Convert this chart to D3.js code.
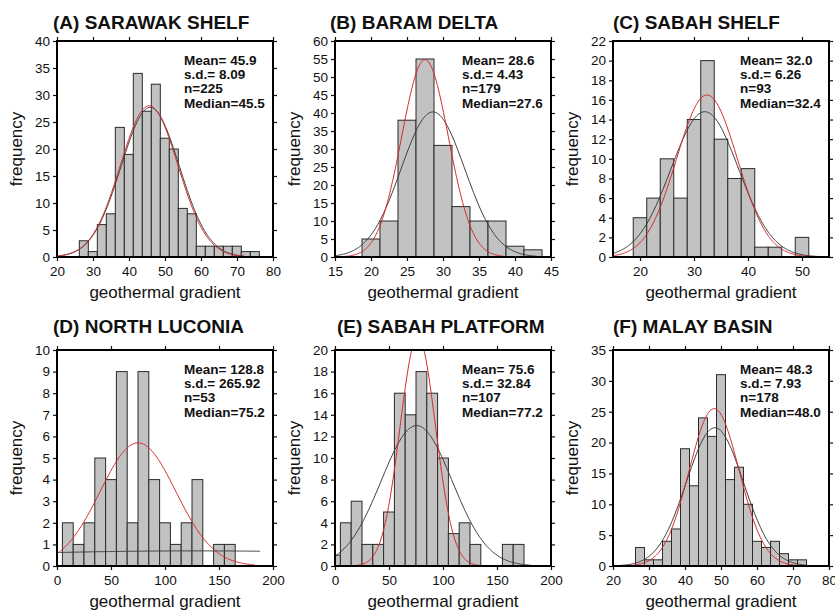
<!DOCTYPE html>
<html><head><meta charset="utf-8">
<script src="https://cdn.jsdelivr.net/npm/d3@7"></script>
<style>
body{margin:0;background:#fff}
svg{display:block}
text{font-family:"Liberation Sans",Arial,Helvetica,sans-serif;fill:#111}
</style>
</head><body>
<svg id="chart" width="835" height="612"></svg>
<script>
// ---------------- DATA ----------------
const titles = ["(A) SARAWAK SHELF", "(B) BARAM DELTA", "(C) SABAH SHELF",
                "(D) NORTH LUCONIA", "(E) SABAH PLATFORM", "(F) MALAY BASIN"];

// histogram bins: first bin left edge and bin width (geothermal gradient units)
const binStarts = [26.2, 18.75, 18.75, 5, -5, 26.25];
const binWidths = [2.5, 2.5, 2.5, 10, 10, 2.5];

const countsA = [3, 1, 6, 8, 24, 19, 34, 27, 32, 22, 20, 9, 8, 2, 2, 2, 2, 2, 1, 1];
const countsB = [5, 10, 38, 55, 31, 14, 10, 10, 3, 2];
const countsC = [4, 6, 10, 6, 14, 20, 12, 8, 9, 1, 1, 0, 2];
const countsD = [2, 1, 2, 5, 4, 9, 2, 9, 4, 2, 1, 2, 4, 0, 1, 1];
const countsE = [1, 4, 6, 2, 2, 5, 16, 14, 18, 16, 10, 3, 4, 2, 0, 0, 2, 2];
const countsF = [3, 1, 1, 4, 6, 19, 13, 24, 21, 31, 14, 16, 10, 4, 3, 4, 2, 1, 1];
const counts = [countsA, countsB, countsC, countsD, countsE, countsF];

// axes
const xDomains = [[20, 80], [15, 45], [15, 55], [0, 200], [0, 200], [20, 80]];
const yMaxes = [40, 60, 22, 10, 20, 35];
const xTickValues = [[20, 30, 40, 50, 60, 70, 80], [15, 20, 25, 30, 35, 40, 45], [20, 30, 40, 50],
                     [0, 50, 100, 150, 200], [0, 50, 100, 150, 200], [20, 30, 40, 50, 60, 70, 80]];
const yTickSteps = [5, 5, 2, 1, 2, 5];

// statistics text
const statMean = ["45.9", "28.6", "32.0", "128.8", "75.6", "48.3"];
const statSd = ["8.09", "4.43", "6.26", "265.92", "32.84", "7.93"];
const statN = ["225", "179", "93", "53", "107", "178"];
const statMedian = ["45.5", "27.6", "32.4", "75.2", "77.2", "48.0"];

// fitted normal curves (black: mean/sd fit, red: second fit) — centre, spread, peak height, x-range
const blackMean = [45.9, 28.6, 32.0, 128.8, 75.6, 48.3];
const blackSd = [8.09, 4.43, 6.26, 265.92, 32.84, 7.93];
const blackPeak = [27.7, 40.3, 14.8, 0.70, 13.0, 22.4];
const blackRange = [[20, 72], [15, 43], [15, 53], [0, 188], [0, 181], [21, 74]];
const redMean = [45.6, 27.5, 32.4, 75, 76.7, 48.1];
const redSd = [8.0, 3.26, 5.63, 35, 16.5, 6.95];
const redPeak = [28.0, 54.8, 16.5, 5.7, 21.2, 25.5];
const redRange = [[20, 72], [15.7, 38.4], [15, 52], [0, 183], [7, 147], [22, 72]];

// ---------------- LAYOUT ----------------
const colLeft = [57, 335, 613];
const plotW = 216, plotH = 216;
const rowTop = [41, 350];
const titleBase = [29, 333];
const titleDx = [-4, -5, 0, -4, 2, 0];

const svg = d3.select("#chart");

counts.forEach((cnts, p) => {
  const col = p % 3, row = Math.floor(p / 3);
  const L = colLeft[col], T = rowTop[row];
  const g = svg.append("g").attr("transform", `translate(${L},${T})`);
  const x = d3.scaleLinear().domain(xDomains[p]).range([0, plotW]);
  const y = d3.scaleLinear().domain([0, yMaxes[p]]).range([plotH, 0]);

  const clipId = "clip" + p;
  g.append("clipPath").attr("id", clipId).append("rect")
    .attr("x", 0).attr("y", 0).attr("width", plotW).attr("height", plotH);
  const inner = g.append("g").attr("clip-path", `url(#${clipId})`);

  // bars
  const bins = cnts.map((c, i) => ({x0: binStarts[p] + i * binWidths[p], x1: binStarts[p] + (i + 1) * binWidths[p], c}))
                   .filter(d => d.c > 0);
  inner.selectAll("rect.bar").data(bins).enter().append("rect")
    .attr("class", "bar")
    .attr("x", d => x(d.x0)).attr("width", d => x(d.x1) - x(d.x0))
    .attr("y", d => y(d.c)).attr("height", d => y(0) - y(d.c))
    .attr("fill", "#c2c2c2").attr("stroke", "#2a2a2a").attr("stroke-width", 1);

  // normal curves
  const line = d3.line().x(d => x(d[0])).y(d => y(d[1]));
  function gauss(m, s, pk, rng) {
    const pts = [];
    const n = 240;
    for (let i = 0; i <= n; i++) {
      const xv = rng[0] + (rng[1] - rng[0]) * i / n;
      pts.push([xv, pk * Math.exp(-0.5 * ((xv - m) / s) ** 2)]);
    }
    return pts;
  }
  inner.append("path").datum(gauss(blackMean[p], blackSd[p], blackPeak[p], blackRange[p]))
    .attr("d", line).attr("fill", "none").attr("stroke", "#3a3a3a").attr("stroke-width", 1);
  inner.append("path").datum(gauss(redMean[p], redSd[p], redPeak[p], redRange[p]))
    .attr("d", line).attr("fill", "none").attr("stroke", "#d9262c").attr("stroke-width", 1);

  // axes with outward ticks on all four sides
  const yTicks = d3.range(0, yMaxes[p] + 1e-9, yTickSteps[p]);
  const axL = d3.axisLeft(y).tickValues(yTicks).tickSize(4).tickPadding(3).tickFormat(d3.format("d"));
  const axR = d3.axisRight(y).tickValues(yTicks).tickSize(4).tickFormat("");
  const axB = d3.axisBottom(x).tickValues(xTickValues[p]).tickSize(4).tickPadding(5).tickFormat(d3.format("d"));
  const axT = d3.axisTop(x).tickValues(xTickValues[p]).tickSize(4).tickFormat("");
  const styleAxis = sel => {
    sel.select(".domain").remove();
    sel.selectAll(".tick line").attr("stroke", "#111").attr("stroke-width", 1.2);
    sel.selectAll(".tick text").attr("font-size", 13.5).attr("fill", "#111")
      .attr("font-family", '"Liberation Sans",Arial,Helvetica,sans-serif');
  };
  g.append("g").call(axL).call(styleAxis);
  g.append("g").attr("transform", `translate(${plotW},0)`).call(axR).call(styleAxis);
  g.append("g").attr("transform", `translate(0,${plotH})`).call(axB).call(styleAxis);
  g.append("g").call(axT).call(styleAxis);

  // frame
  g.append("rect").attr("x", 0).attr("y", 0).attr("width", plotW).attr("height", plotH)
    .attr("fill", "none").attr("stroke", "#000").attr("stroke-width", 2);

  // title
  svg.append("text").attr("x", L + titleDx[p]).attr("y", titleBase[row])
    .attr("font-size", 19).attr("font-weight", "bold").text(titles[p]);

  // axis labels
  g.append("text").attr("x", plotW / 2).attr("y", plotH + 41)
    .attr("text-anchor", "middle").attr("font-size", 17).text("geothermal gradient");
  g.append("text").attr("transform", `translate(-35,${plotH / 2}) rotate(-90)`)
    .attr("text-anchor", "middle").attr("font-size", 17).text("frequency");

  // stats
  const lines = ["Mean= " + statMean[p], "s.d.= " + statSd[p], "n=" + statN[p], "Median=" + statMedian[p]];
  g.selectAll("text.stat").data(lines).enter().append("text").attr("class", "stat")
    .attr("x", 127).attr("y", (d, i) => 24 + i * 14.2)
    .attr("font-size", 13.5).attr("font-weight", "bold").text(d => d);
});
</script>
</body></html>
